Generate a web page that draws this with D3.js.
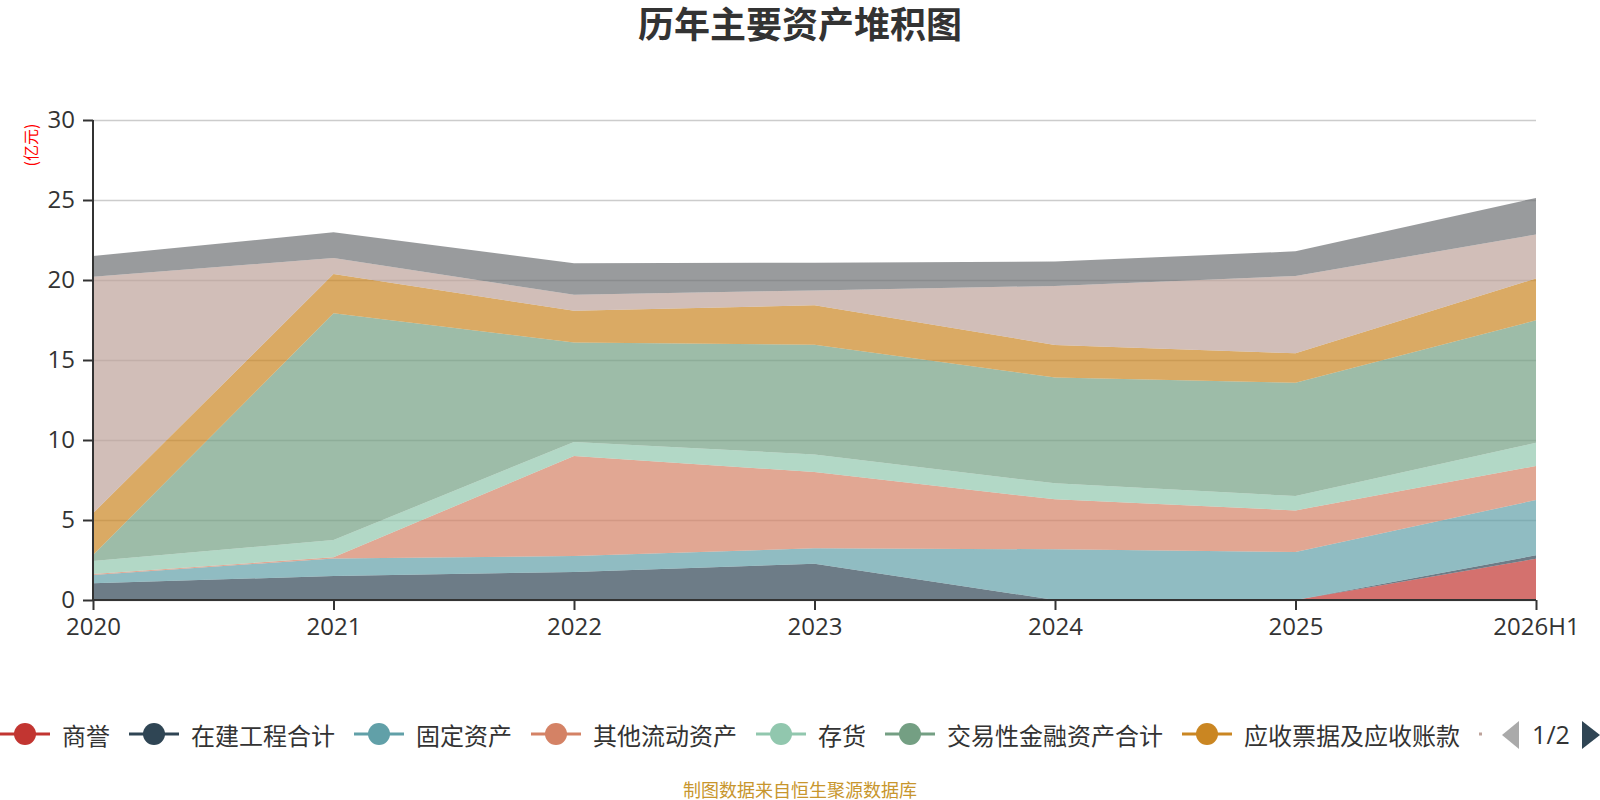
<!DOCTYPE html>
<html>
<head>
<meta charset="utf-8">
<script src="https://cdn.jsdelivr.net/npm/d3@7/dist/d3.min.js"></script>
<style>
  body { margin: 0; background: #fff; }
  svg { display: block; font-family: "Open Sans", "Noto Sans CJK SC", sans-serif; }
</style>
</head>
<body>
<div id="chart"></div>
<script>
// categories and series (亿元), bottom of stack first
var years = ['2020', '2021', '2022', '2023', '2024', '2025', '2026H1'];
var seriesNames = ['商誉', '在建工程合计', '固定资产', '其他流动资产', '存货',
  '交易性金融资产合计', '应收票据及应收账款', '货币资金', '无形资产'];
var goodwill     = [0, 0, 0, 0, 0, 0, 2.58];
var construction = [1.04, 1.5, 1.75, 2.27, 0, 0, 0.21];
var fixedAssets  = [0.52, 1.1, 1.0, 0.96, 3.17, 3.0, 3.46];
var otherCurrent = [0.06, 0.07, 6.25, 4.77, 3.12, 2.6, 2.13];
var inventory    = [0.82, 1.08, 0.88, 1.1, 1.0, 0.9, 1.45];
var tradingFin   = [0.37, 14.17, 6.22, 6.86, 6.61, 7.08, 7.65];
var receivables  = [2.61, 2.45, 1.98, 2.46, 2.04, 1.84, 2.62];
var cash         = [14.78, 1.0, 1.0, 0.93, 3.69, 4.83, 2.75];
var intangibles  = [1.3, 1.61, 1.96, 1.73, 1.52, 1.54, 2.28];
var yTicks = [0, 5, 10, 15, 20, 25, 30];

var allSeries = [goodwill, construction, fixedAssets, otherCurrent, inventory,
  tradingFin, receivables, cash, intangibles];
var colors = ['#c23531', '#2f4554', '#61a0a8', '#d48265', '#91c7ae',
  '#749f83', '#ca8622', '#bda29a', '#6e7074'];

var width = 1600, height = 800;
var plotLeft = 93, plotRight = 1536, plotTop = 120, plotBottom = 600;

var rows = years.map(function(yr, i) {
  var r = { year: yr };
  seriesNames.forEach(function(n, k) { r[n] = allSeries[k][i]; });
  return r;
});

var svg = d3.select('#chart').append('svg')
  .attr('width', width)
  .attr('height', height);

var x = d3.scalePoint().domain(years).range([plotLeft, plotRight]);
var y = d3.scaleLinear().domain([0, 30]).range([plotBottom, plotTop]);

// grid lines
svg.append('g')
  .attr('transform', 'translate(' + plotLeft + ',0)')
  .call(d3.axisLeft(y).tickValues(yTicks).tickSize(-(plotRight - plotLeft)).tickFormat(''))
  .call(function(g) {
    g.select('.domain').remove();
    g.selectAll('line').attr('stroke', '#ccc').attr('stroke-width', 1.5);
  });

// stacked areas
var stack = d3.stack().keys(seriesNames);
var layers = stack(rows);
var area = d3.area()
  .x(function(d) { return x(d.data.year); })
  .y0(function(d) { return y(d[0]); })
  .y1(function(d) { return y(d[1]); });

svg.append('g').selectAll('path')
  .data(layers)
  .join('path')
  .attr('d', area)
  .attr('fill', function(d, i) { return colors[i]; })
  .attr('fill-opacity', 0.7);

// y axis
svg.append('g')
  .attr('transform', 'translate(' + plotLeft + ',0)')
  .call(d3.axisLeft(y).tickValues(yTicks).tickSize(10).tickPadding(8))
  .call(function(g) {
    g.select('.domain').attr('stroke', '#333').attr('stroke-width', 2)
      .attr('d', 'M0,' + plotTop + 'V' + plotBottom);
    g.selectAll('line').attr('stroke', '#333').attr('stroke-width', 2);
    g.selectAll('text').attr('fill', '#333').attr('font-size', 24)
      .attr('font-family', '"Open Sans", sans-serif');
  });

// x axis
svg.append('g')
  .attr('transform', 'translate(0,' + plotBottom + ')')
  .call(d3.axisBottom(x).tickSize(10).tickPadding(8))
  .call(function(g) {
    g.select('.domain').attr('stroke', '#333').attr('stroke-width', 2)
      .attr('d', 'M' + plotLeft + ',0H' + plotRight);
    g.selectAll('line').attr('stroke', '#333').attr('stroke-width', 2);
    g.selectAll('text').attr('fill', '#333').attr('font-size', 24)
      .attr('font-family', '"Open Sans", sans-serif');
  });

// unit label
svg.append('text')
  .attr('transform', 'translate(30,145) rotate(-90)')
  .attr('text-anchor', 'middle')
  .attr('dominant-baseline', 'central')
  .attr('fill', '#ff0000')
  .attr('font-size', 16)
  .attr('font-family', '"Noto Sans CJK SC", sans-serif')
  .text('(亿元)');

// title
svg.append('text')
  .attr('x', 800)
  .attr('y', 38)
  .attr('text-anchor', 'middle')
  .attr('fill', '#333')
  .attr('font-size', 36)
  .attr('font-weight', 'bold')
  .attr('font-family', '"Noto Sans CJK SC", sans-serif')
  .text('历年主要资产堆积图');

// legend (scroll type, page 1 of 2)
var legendY = 734;
svg.append('clipPath').attr('id', 'legclip')
  .append('rect').attr('x', 0).attr('y', 700).attr('width', 1482).attr('height', 70);
var legend = svg.append('g').attr('clip-path', 'url(#legclip)');
var lx = 0;
seriesNames.forEach(function(n, i) {
  var item = legend.append('g').attr('transform', 'translate(' + lx + ',' + legendY + ')');
  item.append('line')
    .attr('x1', 0).attr('x2', 50).attr('y1', 0).attr('y2', 0)
    .attr('stroke', colors[i]).attr('stroke-width', 3);
  item.append('circle')
    .attr('cx', 25).attr('cy', 0).attr('r', 11)
    .attr('fill', colors[i]);
  var t = item.append('text')
    .attr('x', 62).attr('y', 0)
    .attr('dominant-baseline', 'central')
    .attr('fill', '#333')
    .attr('font-size', 24)
    .attr('font-family', '"Noto Sans CJK SC", sans-serif')
    .text(n);
  lx += 62 + t.node().getComputedTextLength() + 19;
});

// page controls
svg.append('path')
  .attr('d', 'M1519,721L1502,735L1519,749Z')
  .attr('fill', '#aaa');
svg.append('text')
  .attr('x', 1551).attr('y', legendY)
  .attr('text-anchor', 'middle')
  .attr('dominant-baseline', 'central')
  .attr('fill', '#333')
  .attr('font-size', 25)
  .attr('font-family', '"Open Sans", sans-serif')
  .text('1/2');
svg.append('path')
  .attr('d', 'M1582,721L1600,735L1582,749Z')
  .attr('fill', '#2f4554');

// source note
svg.append('text')
  .attr('x', 800).attr('y', 789)
  .attr('text-anchor', 'middle')
  .attr('dominant-baseline', 'central')
  .attr('fill', '#c8962d')
  .attr('font-size', 18)
  .attr('font-family', '"Noto Sans CJK SC", sans-serif')
  .text('制图数据来自恒生聚源数据库');
</script>
</body>
</html>
